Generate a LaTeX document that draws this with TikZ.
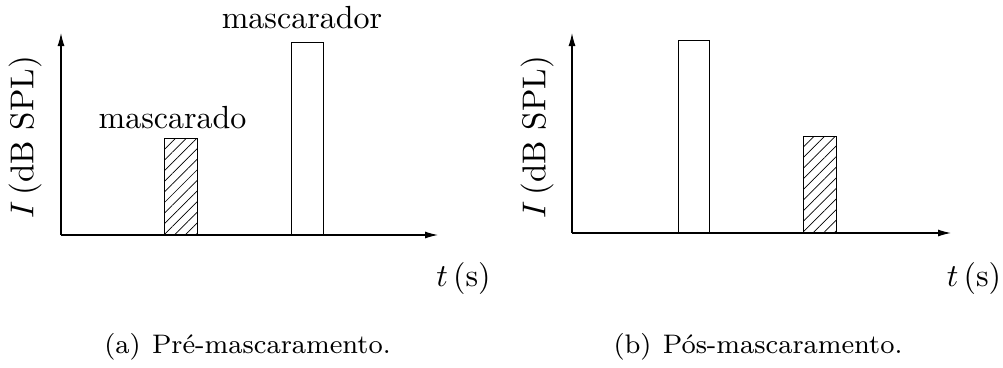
\documentclass[tikz,border=0pt]{standalone}
\usetikzlibrary{patterns.meta,arrows.meta}
\begin{document}
\begin{tikzpicture}[x=1pt,y=-1pt,
  axis/.style={line width=1.1pt,-{Latex[length=13pt,width=7pt]}},
  bar/.style={draw,line width=1pt},
  hbar/.style={bar,pattern={Lines[angle=45,distance=7.5pt,line width=0.7pt]}},
  lab/.style={font=\normalsize,scale=3.2,inner sep=0pt},
  mlab/.style={font=\normalsize,scale=3.3,inner sep=0pt},
  captext/.style={font=\footnotesize,scale=3.35,inner sep=0pt,anchor=base}]
\useasboundingbox (0,0) rectangle (1003,367);
% left panel
\coordinate (oa) at (61,235);
\coordinate (ya) at (61,33);
\coordinate (xa) at (438,235);
\draw[axis] (oa) -- (ya);
\draw[axis] (oa) -- (xa);
\draw[hbar] (164,235) rectangle (197,138);
\draw[bar] (291,235) rectangle (323,42);
\node[lab,anchor=base] (ma) at (172.5,128) {mascarado};
\node[lab,anchor=base] (mr) at (302,28) {mascarador};
\node[mlab,rotate=90] (ia) at (25,137) {$I\,(\mathrm{dB\ SPL})$};
\node[lab,anchor=base] (ta) at (463.5,286) {$t\,(\mathrm{s})$};
\node[captext] (ca) at (247.5,353) {(a)\hspace{3.4pt}Pré-mascaramento.};
% right panel
\coordinate (ob) at (572,233);
\coordinate (yb) at (572,33);
\coordinate (xb) at (951,233);
\draw[axis] (ob) -- (yb);
\draw[axis] (ob) -- (xb);
\draw[bar] (678,233) rectangle (709,40);
\draw[hbar] (803,233) rectangle (836,136);
\node[mlab,rotate=90] (ib) at (537,137) {$I\,(\mathrm{dB\ SPL})$};
\node[lab,anchor=base] (tb) at (974,286) {$t\,(\mathrm{s})$};
\node[captext] (cb) at (758,353) {(b)\hspace{3.4pt}Pós-mascaramento.};
\end{tikzpicture}
\end{document}
